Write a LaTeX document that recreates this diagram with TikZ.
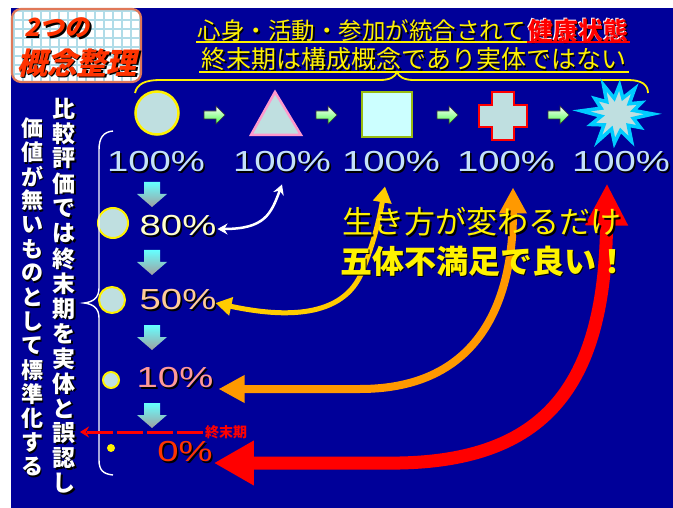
\documentclass[tikz,border=0pt]{standalone}
\usepackage{fontspec}
\setmainfont{Noto Sans CJK JP}
\newfontfamily\pctfont[FakeStretch=1.32]{Liberation Sans}
\newfontfamily\slantjp[FakeSlant=0.22]{Noto Sans CJK JP}
\usetikzlibrary{arrows.meta,calc}
\definecolor{bg}{HTML}{000099}
\definecolor{shapefill}{HTML}{BFDFE0}
\definecolor{sqfill}{HTML}{CCFFFF}
\definecolor{sqline}{HTML}{99BB11}
\definecolor{triline}{HTML}{FF99CC}
\definecolor{starline}{HTML}{00CCFF}
\definecolor{pcthund}{HTML}{C4E2FA}
\definecolor{pcteighty}{HTML}{FFFFCC}
\definecolor{pctfifty}{HTML}{FFCC99}
\definecolor{pctten}{HTML}{FF9999}
\definecolor{pctzero}{HTML}{FF3300}
\definecolor{gold}{HTML}{FFCC00}
\definecolor{orng}{HTML}{FF9900}
\definecolor{boxred}{HTML}{FF3300}
\definecolor{boxline}{HTML}{E07858}
\definecolor{gridc}{HTML}{B0DCE8}
\definecolor{downtop}{HTML}{66FFFF}
\definecolor{downbot}{HTML}{A0A0A0}
\newcommand\shtxt[5]{%
  \node[#3,text=black,xshift=1.6pt,yshift=-1.6pt] at (#2) {#5};
  \node[#3,text=#4] (#1) at (#2) {#5};}
\begin{document}
\begin{tikzpicture}[x=1pt,y=-1pt,
  every node/.style={inner sep=0pt},
  pct/.style={font=\pctfont\fontsize{29}{29}\selectfont},
  vtxt/.style={font=\bfseries\fontsize{22}{22}\selectfont},
  vtxtb/.style={font=\bfseries\fontsize{23}{23}\selectfont},
  shp/.style={line width=2.5pt, fill=shapefill},
  downarr/.style={top color=downtop, bottom color=downbot},
  greenarr/.style={top color=white, bottom color=green!70!white, draw=black!80, line width=0.6pt},
  conn/.style={line cap=butt},
]
\useasboundingbox (0,0) rectangle (673,508);
\fill[white] (0,0) rectangle (673,508);
\fill[bg] (11,8) rectangle (673,508);

% ---- top-left box
\begin{scope}
  \clip[rounded corners=9pt] (12,9) rectangle (141,82);
  \fill[white] (12,9) rectangle (141,82);
  \foreach \gx in {14,23,...,140} \draw[gridc, line width=1.6pt] (\gx,9) -- (\gx,82);
  \foreach \gy in {11,20,...,82} \draw[gridc, line width=1.6pt] (12,\gy) -- (141,\gy);
\end{scope}
\draw[boxline, line width=2.2pt, rounded corners=9pt] (12,9) rectangle (141,82);
\shtxt{bx1}{57,28}{font=\slantjp\bfseries\fontsize{25}{25}\selectfont}{boxred}{2つの}
\shtxt{bx2}{77,63}{font=\slantjp\bfseries\fontsize{30}{30}\selectfont}{boxred}{概念整理}

% ---- title
\shtxt{t1}{362,31}{font=\fontsize{23.5}{24}\selectfont}{yellow}{心身・活動・参加が統合されて}
\node[font=\bfseries\fontsize{25}{25}\selectfont, text=black, xshift=1.2pt, yshift=-1.2pt] at (578,31) {健康状態};
\node[font=\bfseries\fontsize{25}{25}\selectfont, text=white, xshift=-0.8pt, yshift=0.8pt] at (578,31) {健康状態};
\node[font=\bfseries\fontsize{25}{25}\selectfont, text=red] (t1r) at (578,31) {健康状態};
\draw[yellow, line width=2pt] (196,42) -- (527,42);
\draw[red, line width=2pt] (527,42) -- (630,42);
\shtxt{t2}{414,59}{font=\fontsize{25}{25}\selectfont}{yellow}{終末期は構成概念であり実体ではない}
\draw[yellow, line width=2pt] (199,72) -- (629,72);

% ---- top brace
\draw[yellow, line width=1.8pt] (135,93) .. controls (137,84) and (145,80) .. (160,80) -- (380,80)
  .. controls (390,80) and (395,77) .. (397,72) .. controls (399,77) and (404,80) .. (414,80)
  -- (628,80) .. controls (642,80) and (648,85) .. (648,93);

% ---- shapes row
\node[circle, draw=yellow, shp, minimum size=43pt] (s1) at (157,113) {};
\draw[draw=triline, shp, line join=miter] (275,92) -- (301,135) -- (251,135) -- cycle;
\coordinate (s2) at (276,120);
\node[rectangle, draw=sqline, line width=2.5pt, fill=sqfill, minimum width=50pt, minimum height=45pt] (s3) at (387,114.5) {};
\draw[draw=red, shp, line join=miter] (492,92) -- (514,92) -- (514,105) -- (527,105) -- (527,127) -- (514,127)
  -- (514,140) -- (492,140) -- (492,127) -- (479,127) -- (479,105) -- (492,105) -- cycle;
\coordinate (s4) at (503,116);
\begin{scope}[shift={(617,114)}]
  \draw[draw=starline, line width=3.5pt, fill=shapefill, line join=miter]
    (0:36) -- (15:17) -- (30:27) -- (45:16) -- (62:31) -- (78:17) -- (95:29) -- (110:16) -- (125:33)
    -- (140:17) -- (158:28) -- (172:16) -- (185:36) -- (200:17) -- (215:27) -- (230:16) -- (245:32)
    -- (260:16) -- (275:29) -- (290:17) -- (305:31) -- (320:16) -- (335:27) -- (348:17) -- cycle;
  \coordinate (s5) at (0,0);
\end{scope}
% small green arrows
\foreach \ax in {204,316,437,548} {
  \draw[greenarr] (\ax,111) -- (\ax+12,111) -- (\ax+12,106) -- (\ax+21,115) -- (\ax+12,124)
    -- (\ax+12,119) -- (\ax,119) -- cycle;
}

% ---- 100% row
\shtxt{h1}{156,162}{pct}{pcthund}{100\%}
\shtxt{h2}{282,162}{pct}{pcthund}{100\%}
\shtxt{h3}{391,162}{pct}{pcthund}{100\%}
\shtxt{h4}{506,162}{pct}{pcthund}{100\%}
\shtxt{h5}{621,162}{pct}{pcthund}{100\%}

% ---- left column
\foreach \yy in {182,250,325,403} {
  \shade[downarr] (144,\yy) -- (160,\yy) -- (160,\yy+12) -- (167,\yy+12) -- (152,\yy+25)
    -- (137,\yy+12) -- (144,\yy+12) -- cycle;
}
\node[circle, draw=yellow, line width=2pt, fill=shapefill, minimum size=30pt] (c80) at (113,223) {};
\node[circle, draw=yellow, line width=2pt, fill=shapefill, minimum size=26pt] (c50) at (112,300) {};
\node[circle, draw=yellow, line width=2pt, fill=shapefill, minimum size=16pt] (c10) at (111,380) {};
\node[circle, fill=yellow, minimum size=8pt] (c0) at (111,448) {};

\shtxt{p80}{178,226}{pct}{pcteighty}{80\%}
\shtxt{p50}{178,300}{pct}{pctfifty}{50\%}
\shtxt{p10}{175,378}{pct}{pctten}{10\%}
\shtxt{p0}{185,452}{pct}{pctzero}{0\%}

% vertical brace
\draw[white, line width=1.4pt] (113,131) .. controls (103,132) and (99,138) .. (99,150) -- (99,288)
  .. controls (99,298) and (93,302) .. (84,303) .. controls (93,304) and (99,308) .. (99,318)
  -- (99,460) .. controls (99,470) and (103,474) .. (113,475);

% vertical texts
\foreach \ch [count=\i] in {価,値,が,無,い,も,の,と,し,て,標,準,化,す,る} {
  \node[vtxt, text=black, xshift=1.5pt, yshift=-1.5pt] at (32,{128+(\i-1)*24.2}) {\ch};
  \node[vtxt, text=white] (va\i) at (32,{128+(\i-1)*24.2}) {\ch};
}
\foreach \ch [count=\i] in {比,較,評,価,で,は,終,末,期,を,実,体,と,誤,認,し} {
  \node[vtxtb, text=black, xshift=1.5pt, yshift=-1.5pt] at (64,{108.5+(\i-1)*25}) {\ch};
  \node[vtxtb, text=white] (vb\i) at (64,{108.5+(\i-1)*25}) {\ch};
}

% dashed end-of-life arrow
\node[font=\bfseries\fontsize{14}{14}\selectfont, text=red] (eol) at (226,432) {終末期};
\coordinate (eolend) at (80,432);
\draw[red, line width=3pt, dash pattern=on 26pt off 4pt, -{Stealth[length=9pt,width=11pt]}]
  ([xshift=-2pt]eol.west) -- (eolend);

% ---- big curved arrows
\draw[white, line width=2.5pt, conn, {Stealth[length=10pt,width=11pt]}-{Stealth[length=10pt,width=11pt]}]
  ([xshift=1pt,yshift=-3pt]p80.east) .. controls (265,229) and (271,214) .. ([yshift=-12pt]h2.south);
\draw[gold, line width=5pt, conn, {Triangle[length=16pt,width=18pt]}-{Triangle[length=16pt,width=18pt]}]
  ([xshift=-1pt,yshift=-3pt]p50.east) .. controls (285,318) and (343,318) .. (362,272)
  .. controls (375,240) and (380,215) .. ([xshift=-6pt,yshift=-14pt]h3.south);
\draw[orng, line width=8pt, conn, {Triangle[length=26pt,width=26pt]}-{Triangle[length=26pt,width=26pt]}]
  ([xshift=5pt,yshift=-11pt]p10.east) -- (360,389) .. controls (480,389) and (513,300) .. ([xshift=7pt,yshift=-15pt]h4.south);
\draw[red, line width=13pt, conn, {Triangle[length=40pt,width=42pt]}-{Triangle[length=42pt,width=40pt]}]
  ([xshift=1pt,yshift=-11pt]p0.east) -- (400,463) .. controls (550,460) and (605,380) .. ([xshift=-14pt,yshift=-11pt]h5.south);

% ---- message
\shtxt{m1}{482,222}{font=\fontsize{31}{31}\selectfont}{yellow}{生き方が変わるだけ}
\shtxt{m2}{484,261}{font=\bfseries\fontsize{32}{32}\selectfont}{yellow}{五体不満足で良い！}
\end{tikzpicture}
\end{document}
